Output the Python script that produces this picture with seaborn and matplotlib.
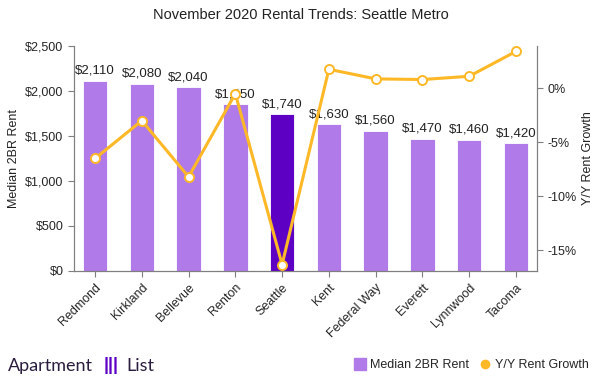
import matplotlib
matplotlib.use("Agg")
import matplotlib.pyplot as plt
import matplotlib.ticker as mticker
from matplotlib.lines import Line2D
import pandas as pd
import seaborn as sns

cities = ["Redmond", "Kirkland", "Bellevue", "Renton", "Seattle", "Kent",
          "Federal Way", "Everett", "Lynnwood", "Tacoma"]
median_rent = [2110, 2080, 2040, 1850, 1740, 1630, 1560, 1470, 1460, 1420]
yoy_growth = [-6.5, -3.0, -8.2, -0.5, -16.3, 1.75, 0.86, 0.8, 1.1, 3.4]
highlight = "Seattle"

BAR = "#b07ae8"
BAR_HI = "#5e00c4"
LINE = "#fdb827"
AXIS = "#7f7f7f"

sns.set_style("white")
plt.rcParams["font.family"] = ["Liberation Sans", "DejaVu Sans"]

df = pd.DataFrame({"city": cities, "rent": median_rent, "growth": yoy_growth})
df["kind"] = ["hi" if c == highlight else "lo" for c in df["city"]]

fig = plt.figure(figsize=(6.02, 3.84), dpi=100)
ax = fig.add_axes([74 / 602, 1 - 271 / 384, 463 / 602, 225 / 384])

sns.barplot(data=df, x="city", y="rent", hue="kind", palette={"hi": BAR_HI, "lo": BAR},
            width=0.52, legend=False, ax=ax, saturation=1, edgecolor="white", linewidth=0.6)
for cont in ax.containers:
    ax.bar_label(cont, labels=[f"${v:,.0f}" for v in cont.datavalues], padding=3,
                 fontsize=9.5, color="#222222")

ax.set_ylim(0, 2500)
ax.set_xlim(-0.45, len(cities) - 0.55)
ax.yaxis.set_major_locator(mticker.MultipleLocator(500))
ax.yaxis.set_major_formatter(mticker.FuncFormatter(lambda v, p: f"${v:,.0f}"))
ax.set_ylabel("Median 2BR Rent", fontsize=9, color="#222222")
ax.set_xlabel("")
ax.tick_params(axis="x", rotation=45, labelsize=9, length=4, color=AXIS, direction="out")
ax.tick_params(axis="y", labelsize=9, length=4, color=AXIS, direction="out")
for lab in ax.get_xticklabels():
    lab.set_ha("right")
    lab.set_rotation_mode("anchor")
ax.tick_params(bottom=True, left=True)

ax2 = ax.twinx()
sns.lineplot(data=df, x="city", y="growth", sort=False, color=LINE, linewidth=2.2,
             marker="o", markersize=6.5, markerfacecolor="white", markeredgecolor=LINE,
             markeredgewidth=1.4, ax=ax2)
ax2.set_ylim(-16.9, 3.9)
ax2.yaxis.set_major_locator(mticker.MultipleLocator(5))
ax2.yaxis.set_major_formatter(mticker.FuncFormatter(lambda v, p: f"{v:.0f}%"))
ax2.set_ylabel("Y/Y Rent Growth", fontsize=9, color="#222222", rotation=90, labelpad=4)
ax2.tick_params(axis="y", labelsize=9, length=4, color=AXIS, direction="out", right=True)

for a in (ax, ax2):
    a.spines["top"].set_visible(False)
    for s in ("left", "right", "bottom"):
        a.spines[s].set_color(AXIS)
        a.spines[s].set_linewidth(0.8)

fig.text(0.5, 1 - 15 / 384, "November 2020 Rental Trends: Seattle Metro",
         ha="center", va="center", fontsize=10.5, color="#222222")

# brand mark bottom-left
fig.text(8 / 602, 1 - 366 / 384, "Apartment", fontsize=13, color="#2b1d3f",
         va="center", ha="left", family=["Lato", "DejaVu Sans"])
fig.text(111 / 602, 1 - 366 / 384, "|||", fontsize=13, color="#5e00c4",
         va="center", ha="center", weight="bold")
fig.text(126 / 602, 1 - 366 / 384, "List", fontsize=13, color="#2b1d3f",
         va="center", ha="left", family=["Lato", "DejaVu Sans"])

handles = [Line2D([], [], marker="s", linestyle="", color=BAR, markersize=8),
           Line2D([], [], marker="o", linestyle="", color=LINE, markersize=6)]
fig.legend(handles, ["Median 2BR Rent", "Y/Y Rent Growth"], loc="center right",
           bbox_to_anchor=(600 / 602, 1 - 365 / 384), ncol=2, frameon=False,
           fontsize=9, handletextpad=0.3, columnspacing=0.8, handlelength=1.0)

fig.savefig("out.png", dpi=100)
